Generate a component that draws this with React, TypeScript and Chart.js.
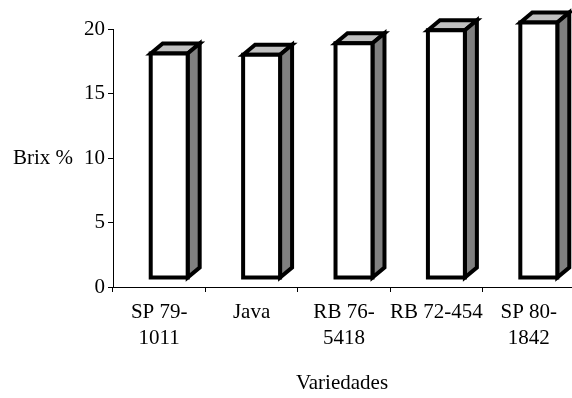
import React, { useEffect, useRef } from "react";
import { Chart, registerables } from "chart.js";

Chart.register(...registerables);

// Sugarcane varieties and their measured Brix (%)
const varieties: (string | string[])[] = [
  ["SP 79-", "1011"],
  "Java",
  ["RB 76-", "5418"],
  "RB 72-454",
  ["SP 80-", "1842"],
];
const brix = [17.4, 17.3, 18.2, 19.2, 19.8];
const brixMin = 0;
const brixMax = 20;
const brixStep = 5;

const yTitle = "Brix %";
const xTitle = "Variedades";

const FONT = '"Liberation Serif", "Times New Roman", serif';
const FONT_SIZE = 21;

// Column depth drawn behind each front face
const DEPTH_X = 12;
const DEPTH_Y = 10;
const SHIFT_X = 10; // front face sits right of the category centre
const LIFT = 9; // front face sits above the floor edge

const columns3d = {
  id: "columns3d",
  afterDatasetsDraw(chart: any) {
    const ctx: CanvasRenderingContext2D = chart.ctx;
    const meta = chart.getDatasetMeta(0);
    ctx.save();
    ctx.lineWidth = 4;
    ctx.lineJoin = "miter";
    ctx.strokeStyle = "#000";
    const shape = (pts: number[][], fill: string) => {
      ctx.beginPath();
      ctx.moveTo(pts[0][0], pts[0][1]);
      for (let i = 1; i < pts.length; i++) ctx.lineTo(pts[i][0], pts[i][1]);
      ctx.closePath();
      ctx.fillStyle = fill;
      ctx.fill();
      ctx.stroke();
    };
    meta.data.forEach((bar: any) => {
      const { x, y, base, width } = bar.getProps(["x", "y", "base", "width"], true);
      const L = x + SHIFT_X - width / 2;
      const R = L + width;
      const T = y - LIFT;
      const B = base - LIFT;
      shape(
        [
          [L, T],
          [L + DEPTH_X, T - DEPTH_Y],
          [R + DEPTH_X, T - DEPTH_Y],
          [R, T],
        ],
        "#c0c0c0"
      );
      shape(
        [
          [R, T],
          [R + DEPTH_X, T - DEPTH_Y],
          [R + DEPTH_X, B - DEPTH_Y],
          [R, B],
        ],
        "#808080"
      );
      shape(
        [
          [L, T],
          [R, T],
          [R, B],
          [L, B],
        ],
        "#ffffff"
      );
    });
    ctx.restore();
  },
};

const axisTitles = {
  id: "axisTitles",
  afterDraw(chart: any) {
    const ctx: CanvasRenderingContext2D = chart.ctx;
    const area = chart.chartArea;
    ctx.save();
    ctx.fillStyle = "#000";
    ctx.font = `${FONT_SIZE}px ${FONT}`;
    ctx.textBaseline = "middle";
    ctx.textAlign = "left";
    ctx.fillText(yTitle, 13, (area.top + area.bottom) / 2);
    ctx.textAlign = "center";
    ctx.fillText(xTitle, (area.left + area.right) / 2 - 2, 383);
    ctx.restore();
  },
};

export default function App() {
  const canvasRef = useRef<HTMLCanvasElement | null>(null);

  useEffect(() => {
    const canvas = canvasRef.current;
    if (!canvas) return;
    const chart = new Chart(canvas, {
      type: "bar",
      data: {
        labels: varieties,
        datasets: [
          {
            data: brix,
            backgroundColor: "rgba(0,0,0,0)",
            borderWidth: 0,
            barPercentage: 0.4,
            categoryPercentage: 1,
          },
        ],
      },
      options: {
        responsive: false,
        animation: false,
        devicePixelRatio: 1,
        layout: { padding: { top: 29, right: 5, bottom: 0, left: 0 } },
        plugins: {
          legend: { display: false },
          tooltip: { enabled: false },
        },
        scales: {
          x: {
            grid: {
              display: true,
              drawOnChartArea: false,
              drawTicks: true,
              tickLength: 5,
              tickColor: "#000",
              offset: true,
            },
            border: { display: true, color: "#000", width: 1 },
            ticks: {
              color: "#000",
              font: { family: FONT, size: FONT_SIZE, lineHeight: 1.24 },
              padding: 7,
              maxRotation: 0,
              autoSkip: false,
            },
            afterFit(scale: any) {
              scale.height = 111;
            },
          },
          y: {
            min: brixMin,
            max: brixMax,
            grid: {
              display: true,
              drawOnChartArea: false,
              drawTicks: true,
              tickLength: 5,
              tickColor: "#000",
            },
            border: { display: true, color: "#000", width: 1 },
            ticks: {
              stepSize: brixStep,
              color: "#000",
              font: { family: FONT, size: FONT_SIZE },
              padding: 3,
            },
            afterFit(scale: any) {
              scale.width = 113;
            },
          },
        },
      },
      plugins: [columns3d, axisTitles],
    });
    return () => chart.destroy();
  }, []);

  return (
    <div
      style={{
        position: "fixed",
        left: 0,
        top: 0,
        width: 572,
        height: 398,
        overflow: "hidden",
        background: "#fff",
      }}
    >
      <canvas ref={canvasRef} width={580} height={398} style={{ display: "block" }} />
    </div>
  );
}
